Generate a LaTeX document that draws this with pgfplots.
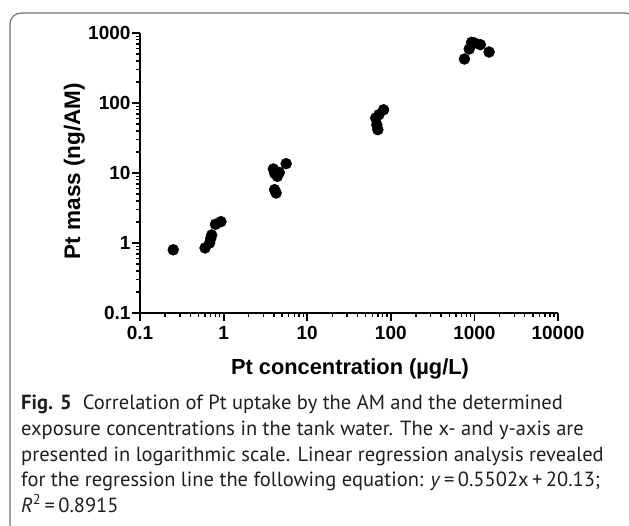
\documentclass[border=0pt]{standalone}
\usepackage{fontspec}
\setmainfont{Liberation Sans}
\newfontfamily\capfont{PT Sans}
\usepackage{pgfplots}
\pgfplotsset{compat=1.18}

\begin{document}
\begin{tikzpicture}
\clip (0pt,0pt) rectangle (629pt,525pt);
\fill[white] (0pt,0pt) rectangle (629pt,525pt);
% frame of the figure box
\draw[black!55, line width=1.2pt, rounded corners=11pt]
  (10pt,-20pt) -- (10pt,512pt) -- (636pt,512pt) -- (636pt,-20pt);

\begin{axis}[
  at={(140pt,212pt)}, anchor=south west,
  scale only axis, width=418pt, height=280pt,
  xmode=log, ymode=log,
  xmin=0.1, xmax=10000, ymin=0.1, ymax=1000,
  axis x line*=bottom, axis y line*=left,
  axis line style={line width=2.6pt},
  clip=false,
  tick align=outside,
  major tick length=8pt, minor tick length=4pt,
  every major tick/.style={black, line width=1.8pt},
  every minor tick/.style={black, line width=1.4pt},
  xtick={0.1,1,10,100,1000,10000},
  xticklabels={0.1,1,10,100,1000,10000},
  ytick={0.1,1,10,100,1000},
  yticklabels={0.1,1,10,100,1000},
  minor xtick={0.2,0.3,0.4,0.5,0.6,0.7,0.8,0.9,2,3,4,5,6,7,8,9,20,30,40,50,60,70,80,90,200,300,400,500,600,700,800,900,2000,3000,4000,5000,6000,7000,8000,9000},
  minor ytick={0.2,0.3,0.4,0.5,0.6,0.7,0.8,0.9,2,3,4,5,6,7,8,9,20,30,40,50,60,70,80,90,200,300,400,500,600,700,800,900},
  ticklabel style={font=\bfseries\fontsize{19}{19}\selectfont},
  xticklabel style={yshift=-2pt},
  yticklabel style={xshift=2pt},
]
\addplot[only marks, mark=*, mark size=5.5pt, black] coordinates {
  (0.25,0.80) (0.60,0.85) (0.68,1.0) (0.70,1.15) (0.72,1.3) (0.80,1.85) (0.93,2.02)
  (3.94,11.4) (4.4,8.96) (4.64,10.2) (5.6,13.6) (4.07,5.78) (4.25,5.18) (4.1,9.8)
  (82,80) (72,68) (66,61) (68,49) (70,41.6)
  (760,425) (867,591) (926,736) (1000,720) (1178,681) (1500,535)
};
\end{axis}

\node[anchor=base, inner sep=0pt, font=\bfseries\fontsize{21.8}{21.8}\selectfont] at (350pt,150pt) {Pt concentration (µg/L)};
\node[rotate=90, anchor=base, inner sep=0pt, font=\bfseries\fontsize{22.5}{22.5}\selectfont] at (80pt,354pt) {Pt mass (ng/AM)};

\begin{scope}[every node/.style={anchor=base west, inner sep=0pt, text=black!88,
    font=\capfont\fontsize{20.5}{20.5}\selectfont}]
\node at (21pt,115pt) {\textbf{Fig. 5}\hspace{0.55em}Correlation of Pt uptake by the AM and the determined};
\node at (21pt,89.5pt) {exposure concentrations in the tank water. The x- and y-axis are};
\node at (21pt,64pt) {presented in logarithmic scale. Linear regression analysis revealed};
\node at (21pt,38.5pt) {for the regression line the following equation: \textit{y}\,=\,0.5502x\,+\,20.13;};
\node at (21pt,13pt) {\textit{R}\textsuperscript{2}\,=\,0.8915};
\end{scope}
\end{tikzpicture}
\end{document}
